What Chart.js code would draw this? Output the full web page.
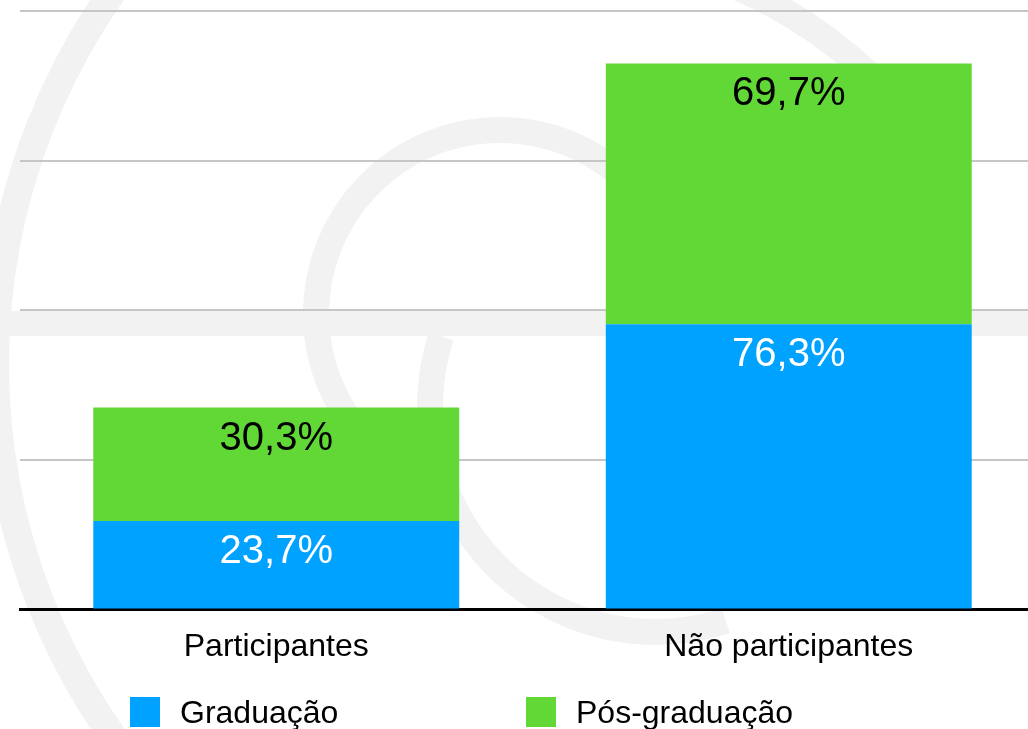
<!DOCTYPE html>
<html lang="pt-BR">
<head>
<meta charset="utf-8">
<title>Graduação x Pós-graduação</title>
<script src="https://cdn.jsdelivr.net/npm/chart.js@4.4.1/dist/chart.umd.min.js"></script>
<style>
  html, body { margin: 0; padding: 0; background: #fff; overflow: hidden; }
  #wrap { position: relative; width: 1028px; height: 729px; overflow: hidden; }
  #grafico { position: absolute; left: 0; top: 0; }
  .legend-item {
    position: absolute; top: 697px; height: 30px;
    display: flex; align-items: center;
    font: 32px "Liberation Sans", Arial, Helvetica, sans-serif; color: #000;
    white-space: nowrap;
  }
  .legend-box { width: 30px; height: 30px; margin-right: 20px; }
</style>
</head>
<body>
<div id="wrap">
  <canvas id="grafico" width="1048" height="729"></canvas>
  <div id="legenda"></div>
</div>
<script>
// Dados
const categorias = ['Participantes', 'Não participantes'];
const graduacao = [23.7, 76.3];
const posGraduacao = [30.3, 69.7];
const nomesSeries = ['Graduação', 'Pós-graduação'];
const yMax = 160;
const yPasso = 40;

const corGraduacao = '#00a2ff';
const corPos = '#61d836';
const corRotulos = ['#ffffff', '#000000'];
const fonte = '"Liberation Sans", Arial, Helvetica, sans-serif';

Chart.defaults.font.family = fonte;

function formatar(v) {
    return v.toFixed(1).replace('.', ',') + '%';
}

// marca d'agua cinza clara no fundo
const marcaDagua = {
    id: 'marcaDagua',
    beforeDraw(chart) {
        const ctx = chart.ctx;
        ctx.save();
        ctx.fillStyle = '#ffffff';
        ctx.fillRect(0, 0, chart.width, chart.height);
        ctx.strokeStyle = '#f2f2f2';
        ctx.fillStyle = '#f2f2f2';
        // faixa horizontal
        ctx.fillRect(0, 311, chart.width, 25);
        // anel grande
        ctx.lineWidth = 28;
        ctx.beginPath();
        ctx.arc(642, 364, 647, 0, Math.PI * 2);
        ctx.stroke();
        // anel interno
        ctx.lineWidth = 26;
        ctx.beginPath();
        ctx.arc(500, 314, 184, Math.PI * 0.65, Math.PI * 2);
        ctx.stroke();
        // arco de baixo
        ctx.beginPath();
        ctx.arc(656, 406, 226, Math.PI * 0.4, Math.PI * 1.1);
        ctx.stroke();
        // arco de cima, lado direito
        ctx.beginPath();
        ctx.arc(560, 400, 449, Math.PI * 1.6, Math.PI * 1.78);
        ctx.stroke();
        ctx.restore();
    }
};

// rotulos de valor dentro das barras
const rotulosBarras = {
    id: 'rotulosBarras',
    afterDatasetsDraw(chart) {
        const ctx = chart.ctx;
        ctx.save();
        ctx.font = '40px ' + fonte;
        ctx.textAlign = 'center';
        ctx.textBaseline = 'alphabetic';
        chart.data.datasets.forEach((ds, i) => {
            const meta = chart.getDatasetMeta(i);
            ctx.fillStyle = corRotulos[i];
            meta.data.forEach((bar, j) => {
                const topo = Math.min(bar.y, bar.base);
                ctx.fillText(formatar(ds.data[j]), bar.x, topo + 42);
            });
        });
        ctx.restore();
    }
};

const ctx = document.getElementById('grafico').getContext('2d');
const grafico = new Chart(ctx, {
    type: 'bar',
    data: {
        labels: categorias,
        datasets: [
            {
                label: nomesSeries[0],
                data: graduacao,
                backgroundColor: corGraduacao,
                borderWidth: 0
            },
            {
                label: nomesSeries[1],
                data: posGraduacao,
                backgroundColor: corPos,
                borderWidth: 0
            }
        ]
    },
    options: {
        responsive: false,
        animation: false,
        devicePixelRatio: 1,
        categoryPercentage: 1,
        barPercentage: 0.714,
        layout: {
            padding: { left: 20, right: 3, top: 11, bottom: 45 }
        },
        plugins: {
            legend: { display: false },
            tooltip: { enabled: false }
        },
        scales: {
            x: {
                stacked: true,
                grid: { display: false, drawTicks: false },
                border: { display: true, color: '#000000', width: 3 },
                ticks: {
                    color: '#000000',
                    font: { size: 32 },
                    padding: 18
                }
            },
            y: {
                stacked: true,
                min: 0,
                max: yMax,
                ticks: { display: false, stepSize: yPasso },
                grid: { color: '#c6c6c6', lineWidth: 2, drawTicks: false },
                border: { display: false }
            }
        }
    },
    plugins: [marcaDagua, rotulosBarras]
});

// legenda em html, montada a partir dos datasets
const legendaEl = document.getElementById('legenda');
const posLegenda = [130, 526];
grafico.data.datasets.forEach((ds, i) => {
    const item = document.createElement('div');
    item.className = 'legend-item';
    item.style.left = posLegenda[i] + 'px';
    item.innerHTML = `<span class="legend-box" style="background:${ds.backgroundColor}"></span>${ds.label}`;
    legendaEl.appendChild(item);
});
</script>
</body>
</html>
